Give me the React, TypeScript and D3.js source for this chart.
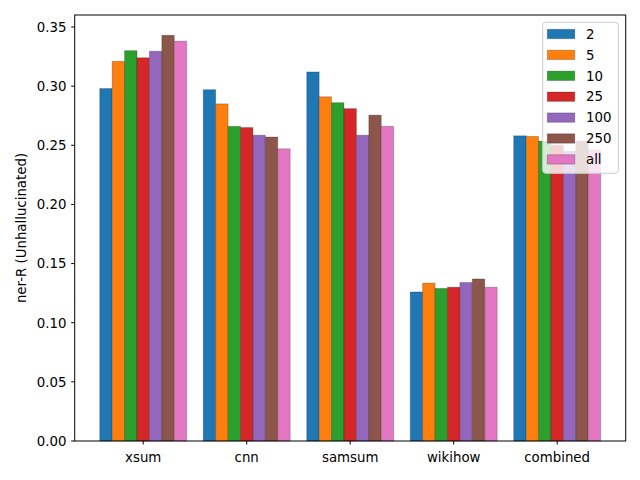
import React from "react";
import * as d3 from "d3";

const categories = ["xsum", "cnn", "samsum", "wikihow", "combined"];
const seriesNames = ["2", "5", "10", "25", "100", "250", "all"];
const colors = ["#1f77b4", "#ff7f0e", "#2ca02c", "#d62728", "#9467bd", "#8c564b", "#e377c2"];
// values[series][category]
const s2 = [0.298, 0.297, 0.312, 0.126, 0.258];
const s5 = [0.321, 0.285, 0.291, 0.1335, 0.2575];
const s10 = [0.330, 0.266, 0.286, 0.129, 0.2535];
const s25 = [0.324, 0.265, 0.281, 0.130, 0.250];
const s100 = [0.3295, 0.2585, 0.2585, 0.134, 0.245];
const s250 = [0.343, 0.257, 0.2755, 0.137, 0.2535];
const sAll = [0.338, 0.247, 0.266, 0.130, 0.246];
const seriesValues = [s2, s5, s10, s25, s100, s250, sAll];
const yTicks = [0, 0.05, 0.1, 0.15, 0.2, 0.25, 0.3, 0.35];

const W = 640, H = 480;
const left = 74.7, right = 625.7, top = 15, bottom = 441;
const barW = 0.12;

export default function App() {
  const x = d3.scaleLinear().domain([-0.662, 4.662]).range([left, right]);
  const maxV = d3.max(seriesValues.flat()) as number;
  const y = d3.scaleLinear().domain([0, maxV * 1.05]).range([bottom, top]);
  const font = "DejaVu Sans, sans-serif";
  const n = seriesNames.length;
  const legX = 542.7, legY = 22.3, legW = 75.6, legH = 151;
  const rowH = 20.9;
  return (
    <svg width={W} height={H} style={{ position: "absolute", left: 0, top: 0 }} fontFamily={font}>
      <rect x={0} y={0} width={W} height={H} fill="white" />
      {seriesValues.map((vals, si) =>
        vals.map((v, ci) => {
          const xc = ci + (si - (n - 1) / 2) * barW;
          const x0 = x(xc - barW / 2);
          const x1 = x(xc + barW / 2);
          return (
            <rect key={`${si}-${ci}`} x={x0} y={y(v)} width={x1 - x0} height={y(0) - y(v)}
              fill={colors[si]} stroke="rgba(0,0,0,0.22)" strokeWidth={1} />
          );
        })
      )}
      {/* axes frame */}
      <rect x={left} y={top} width={right - left} height={bottom - top} fill="none" stroke="black" strokeWidth={1} />
      {yTicks.map((t) => (
        <g key={t}>
          <line x1={left - 3.5} x2={left} y1={y(t)} y2={y(t)} stroke="black" />
          <text x={66.5} y={y(t)} dy="0.36em" textAnchor="end" fontSize={13.33} fill="black">{t.toFixed(2)}</text>
        </g>
      ))}
      {categories.map((c, i) => (
        <g key={c}>
          <line x1={x(i)} x2={x(i)} y1={bottom} y2={bottom + 3.5} stroke="black" />
          <text x={x(i)} y={461.5} textAnchor="middle" fontSize={13.33} fill="black">{c}</text>
        </g>
      ))}
      <text transform={`translate(26,${(top + bottom) / 2}) rotate(-90)`} textAnchor="middle" fontSize={13.33} fill="black">
        ner-R (Unhallucinated)
      </text>
      {/* legend */}
      <rect x={legX} y={legY} width={legW} height={legH} rx={3} fill="white" fillOpacity={0.8} stroke="#cccccc" strokeWidth={1} />
      {seriesNames.map((s, i) => {
        const cy = 34 + i * rowH;
        return (
          <g key={s}>
            <rect x={547.3} y={cy - 4.7} width={27.5} height={9.4} fill={colors[i]} stroke="rgba(0,0,0,0.22)" strokeWidth={1} />
            <text x={586} y={cy} dy="0.36em" fontSize={13.33} fill="black">{s}</text>
          </g>
        );
      })}
    </svg>
  );
}
